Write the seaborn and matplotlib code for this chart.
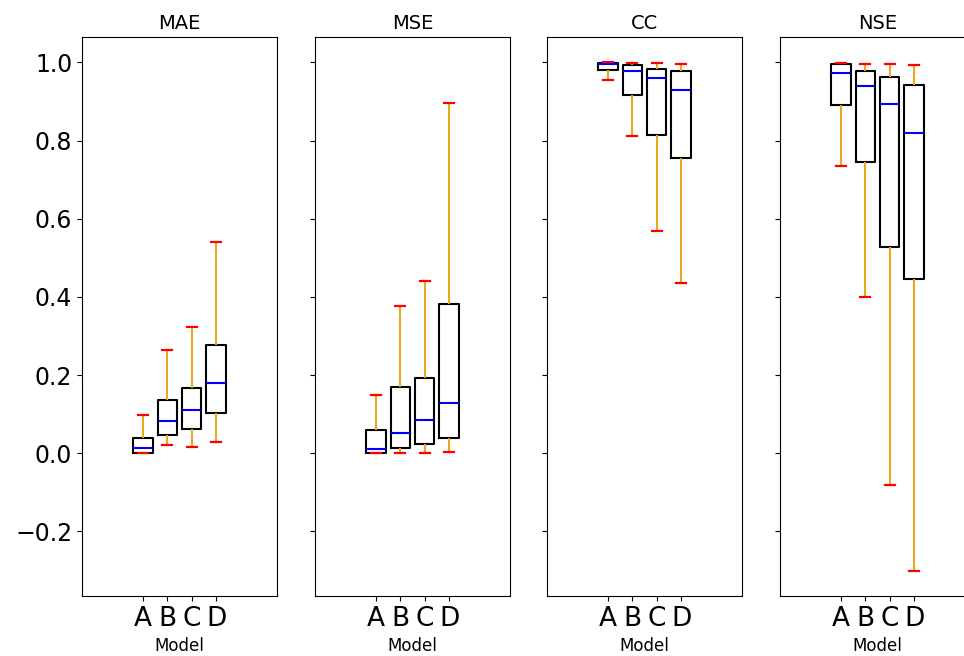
import matplotlib
matplotlib.use("Agg")
import matplotlib.pyplot as plt
import pandas as pd
import seaborn as sns

models = ["A", "B", "C", "D"]
metrics = ["MAE", "MSE", "CC", "NSE"]

# five-number summaries: min, q1, median, q3, max
mae = [
    [0.000, 0.002, 0.014, 0.040, 0.098],
    [0.022, 0.048, 0.082, 0.136, 0.264],
    [0.016, 0.063, 0.110, 0.168, 0.322],
    [0.029, 0.102, 0.180, 0.278, 0.541],
]
mse = [
    [0.000, 0.001, 0.010, 0.060, 0.149],
    [0.002, 0.014, 0.053, 0.170, 0.377],
    [0.002, 0.023, 0.085, 0.192, 0.440],
    [0.003, 0.039, 0.130, 0.381, 0.896],
]
cc = [
    [0.955, 0.981, 0.997, 0.999, 1.000],
    [0.813, 0.917, 0.979, 0.993, 0.999],
    [0.569, 0.814, 0.961, 0.983, 0.998],
    [0.436, 0.755, 0.929, 0.978, 0.997],
]
nse = [
    [0.736, 0.890, 0.974, 0.995, 0.999],
    [0.400, 0.746, 0.939, 0.979, 0.997],
    [-0.080, 0.527, 0.895, 0.962, 0.995],
    [-0.300, 0.445, 0.820, 0.943, 0.994],
]

rows = []
for metric, values in zip(metrics, [mae, mse, cc, nse]):
    for model, vals in zip(models, values):
        for v in vals:
            rows.append({"Metric": metric, "Model": model, "Value": v})
df = pd.DataFrame(rows)

fig = plt.figure(figsize=(9.64, 6.56), dpi=100)
lefts = [0.0851, 0.3268, 0.5674, 0.8091]
axes = []
for left in lefts:
    share = axes[0] if axes else None
    axes.append(fig.add_axes([left, 0.0915, 0.2023, 0.852], sharey=share))

orange = "#EBA622"
for ax, metric in zip(axes, metrics):
    sns.boxplot(
        data=df[df["Metric"] == metric], x="Model", y="Value", order=models,
        ax=ax, fill=False, color="black", width=0.8, whis=(0, 100),
        showfliers=False,
        boxprops={"color": "black", "linewidth": 1.5},
        medianprops={"color": "blue", "linewidth": 1.5},
        whiskerprops={"color": orange, "linewidth": 1.5},
        capprops={"color": "red", "linewidth": 1.6},
    )
    ax.set_title(metric, fontsize=14)
    ax.set_xlabel("Model", fontsize=12)
    ax.set_ylabel("")
    ax.set_xlim(-2.5, 5.5)
    ax.tick_params(axis="x", labelsize=19)
    ax.tick_params(axis="y", labelsize=17)
    for s in ax.spines.values():
        s.set_visible(True)
        s.set_color("black")

for ax in axes[1:]:
    ax.tick_params(labelleft=False)

axes[0].set_yticks([-0.2, 0.0, 0.2, 0.4, 0.6, 0.8, 1.0])

fig.savefig("out.png", dpi=100)
